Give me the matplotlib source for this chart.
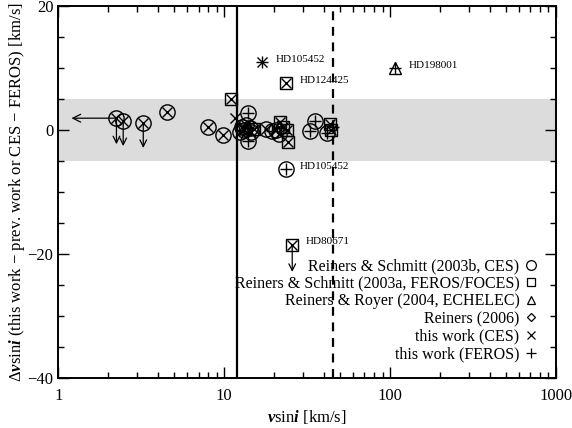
import numpy as np
import matplotlib
matplotlib.use("Agg")
import matplotlib.pyplot as plt

plt.rcParams['font.family'] = ['Liberation Serif', 'DejaVu Serif']
plt.rcParams['mathtext.fontset'] = 'custom'
plt.rcParams['mathtext.rm'] = 'Liberation Serif'
plt.rcParams['mathtext.it'] = 'Liberation Serif:italic'
plt.rcParams['mathtext.bf'] = 'Liberation Serif:italic:bold'

# ---- vsini comparison data ----
# ref: c = Reiners & Schmitt 2003b (CES), s = 2003a (FEROS/FOCES),
#      t = Reiners & Royer 2004, n = none (CES - FEROS)
# inst: x = this work CES, + = this work FEROS, * = both
vsini = [2.24, 2.46, 3.25, 4.53, 8.0, 9.9, 11.0, 11.6, 12.5, 12.8,
         13.2, 13.6, 14.0, 14.0, 14.3, 14.6, 15.2, 16.9, 17.9, 19.5,
         20.5, 21.5, 21.7, 22.5, 24.0, 24.3, 23.6, 23.6, 25.7, 33.0,
         35.3, 41.7, 43.5, 44.0, 45.0, 107.0]
dvsini = [1.9, 1.4, 1.1, 2.9, 0.4, -0.8, 5.0, 1.9, -0.3, 0.5,
          0.0, 0.8, 2.7, -1.7, 0.3, -0.4, 0.2, 11.0, 0.2, -0.2,
          0.0, -0.6, 1.3, 0.4, 0.0, -2.0, 7.6, -6.3, -18.5, -0.2,
          1.4, -0.5, 1.0, 0.0, 0.5, 10.0]
ref = ['c', 'c', 'c', 'c', 'c', 'c', 's', 'n', 'c', 'c',
       'c', 'c', 'c', 'c', 'c', 'c', 's', 'n', 'c', 'c',
       'c', 'c', 's', 's', 's', 's', 's', 'c', 's', 'c',
       'c', 'c', 's', 's', 'n', 't']
inst = ['x', 'x', 'x', 'x', 'x', 'x', 'x', 'x', 'x', 'x',
        'x', 'x', '+', '+', '+', 'x', 'x', '*', 'x', '+',
        'x', 'x', 'x', 'x', 'x', 'x', 'x', '+', 'x', '+',
        '+', '+', 'x', 'x', '+', '+']

# stars with labels
names = ['HD105452', 'HD124425', 'HD105452', 'HD80671', 'HD198001']
name_idx = [17, 26, 27, 28, 35]

# upper limits: (index, arrow end)
left_lim = [(0, 1.2)]
down_lim = [(0, -2.3), (1, -2.6), (2, -2.9), (28, -22.9)]

# boundaries and agreement band
vsini_cut = [12.0, 45.0]
band = [-5.0, 5.0]

fig = plt.figure(figsize=(5.72, 4.28), dpi=100)
ax = fig.add_axes([0.102, 0.117, 0.870, 0.869])

ax.axhspan(band[0], band[1], color='#dcdcdc', lw=0, zorder=0)
ax.axvline(vsini_cut[0], color='k', lw=1.6, zorder=1)
ax.axvline(vsini_cut[1], color='k', lw=1.6, ls=(0, (4, 3)), zorder=1)

ref_marker = {'c': ('o', 11), 's': ('s', 9), 't': ('^', 9)}
for xv, yv, r, m in zip(vsini, dvsini, ref, inst):
    if r in ref_marker:
        mk, ms = ref_marker[r]
        ax.plot(xv, yv, marker=mk, ms=ms, mfc='none', mec='k', mew=1.0, zorder=3)
    if m in ('x', '*'):
        ax.plot(xv, yv, marker='x', ms=7, mec='k', mew=1.0, zorder=4)
    if m in ('+', '*'):
        ax.plot(xv, yv, marker='+', ms=9 if m == '*' else 8, mec='k', mew=1.0, zorder=4)

for i, x_end in left_lim:
    ax.annotate('', xy=(x_end, dvsini[i]), xytext=(vsini[i], dvsini[i]),
                arrowprops=dict(arrowstyle='->', lw=0.9, mutation_scale=14, color='k',
                                shrinkA=0, shrinkB=0))
for i, y_end in down_lim:
    ax.annotate('', xy=(vsini[i], y_end), xytext=(vsini[i], dvsini[i]),
                arrowprops=dict(arrowstyle='->', lw=0.9, mutation_scale=12, color='k',
                                shrinkA=0, shrinkB=0))

for nm, i in zip(names, name_idx):
    ax.annotate(nm, (vsini[i], dvsini[i]), xytext=(10, 2), textcoords='offset points',
                fontsize=8, va='center', ha='left')

# legend: text first, symbol after
handles = [
    plt.Line2D([], [], ls='none', marker='o', ms=7, mfc='none', mec='k', mew=0.9),
    plt.Line2D([], [], ls='none', marker='s', ms=6, mfc='none', mec='k', mew=0.9),
    plt.Line2D([], [], ls='none', marker='^', ms=6, mfc='none', mec='k', mew=0.9),
    plt.Line2D([], [], ls='none', marker='D', ms=4.5, mfc='none', mec='k', mew=0.9),
    plt.Line2D([], [], ls='none', marker='x', ms=6, mec='k', mew=0.9),
    plt.Line2D([], [], ls='none', marker='+', ms=7, mec='k', mew=0.9),
]
labels = ['Reiners & Schmitt (2003b, CES)',
          'Reiners & Schmitt (2003a, FEROS/FOCES)',
          'Reiners & Royer (2004, ECHELEC)',
          'Reiners (2006)',
          'this work (CES)',
          'this work (FEROS)']
ax.legend(handles, labels, loc='lower right', markerfirst=False, frameon=False,
          fontsize=11.5, handlelength=0.8, handletextpad=0.3, labelspacing=0.1,
          borderaxespad=0.0, bbox_to_anchor=(0.975, 0.025))

ax.set_xscale('log')
ax.set_xlim(1, 1000)
ax.set_ylim(-40, 20)
ax.set_yticks([-40, -20, 0, 20])
ax.set_yticks(np.arange(-40, 21, 5), minor=True)
ax.set_yticklabels(['\u221240', '\u221220', '0', '20'])
ax.set_xticks([1, 10, 100, 1000])
ax.set_xticklabels(['1', '10', '100', '1000'])

ax.tick_params(which='both', direction='in', top=True, right=True, labelsize=12, width=1.0)
ax.tick_params(which='major', length=8)
ax.tick_params(which='minor', length=4)
ax.tick_params(axis='x', pad=7)
for sp in ax.spines.values():
    sp.set_linewidth(1.4)

ax.set_xlabel(r'$\mathbf{v}$sin$\mathbf{i}$ [km/s]', fontsize=12, labelpad=3)
ax.set_ylabel('$\\Delta\\mathbf{v}$sin$\\mathbf{i}$ (this work \u2212 prev. work or CES \u2212 FEROS) [km/s]',
              fontsize=12, labelpad=0)

fig.savefig('out.png', dpi=100)
